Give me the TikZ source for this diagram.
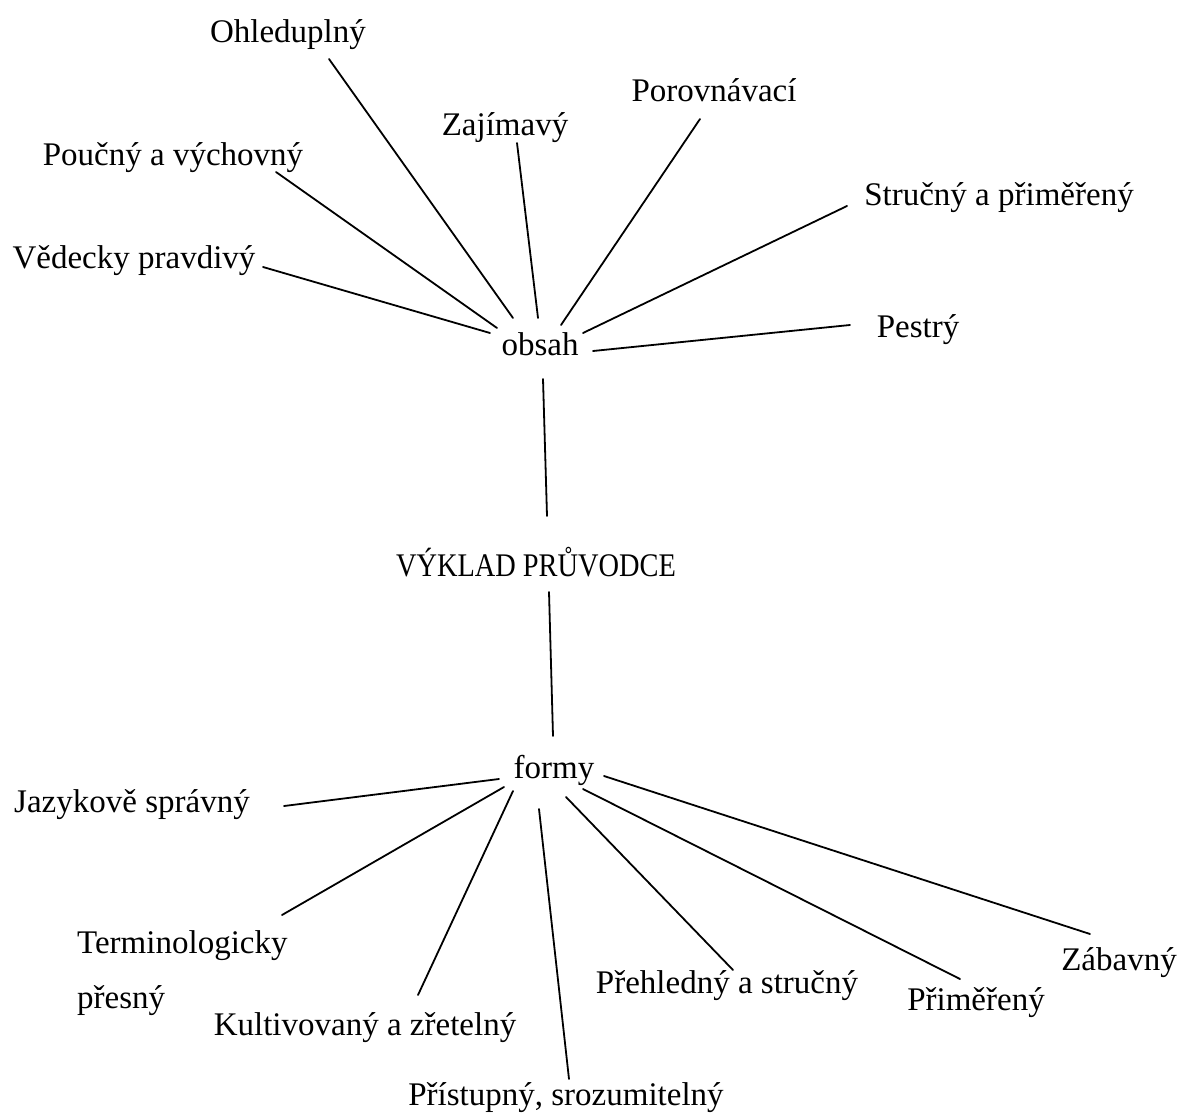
\documentclass[tikz,border=0pt]{standalone}
\usepackage{fontspec}
\setmainfont{Liberation Serif}
\newfontfamily\capfont[FakeStretch=0.86]{Liberation Serif}
\begin{document}
\begin{tikzpicture}[x=1pt,y=-1pt,
  lbl/.style={inner sep=0pt, font=\fontsize{33}{40}\selectfont, anchor=base},
  edge/.style={line width=1.8pt, line cap=round}]
\useasboundingbox[fill=white] (0,0) rectangle (1182,1118);
% nodes
\node[lbl] (ohl) at (288,43) {Ohleduplný};
\node[lbl] (zaj) at (505,136) {Zajímavý};
\node[lbl] (por) at (714,102) {Porovnávací};
\node[lbl] (pou) at (173,165) {Poučný a výchovný};
\node[lbl] (str) at (999,205) {Stručný a přiměřený};
\node[lbl] (ved) at (134,268) {Vědecky pravdivý};
\node[lbl] (pes) at (918,337) {Pestrý};
\node[lbl] (obsah) at (540,355) {obsah};
\node[lbl, font=\fontsize{33}{40}\capfont] (vyk) at (536,576) {VÝKLAD PRŮVODCE};
\node[lbl] (formy) at (554,778) {formy};
\node[lbl] (jaz) at (132,812) {Jazykově správný};
\node[lbl, anchor=base west, align=left, font=\fontsize{33}{55}\selectfont] (ter) at (77,1008) {Terminologicky\\přesný};
\node[lbl] (kul) at (365,1035) {Kultivovaný a zřetelný};
\node[lbl] (pri) at (566,1105) {Přístupný, srozumitelný};
\node[lbl] (pre) at (727,993) {Přehledný a stručný};
\node[lbl] (prim) at (976,1010) {Přiměřený};
\node[lbl] (zab) at (1119,970) {Zábavný};
% connector ends
\coordinate (e-ohl) at (329,59);   \coordinate (o-ohl) at (513,318);
\coordinate (e-pou) at (276,172);  \coordinate (o-pou) at (497,328);
\coordinate (e-ved) at (263,267);  \coordinate (o-ved) at (490,333);
\coordinate (e-zaj) at (517,143);  \coordinate (o-zaj) at (538,318);
\coordinate (e-por) at (700,119);  \coordinate (o-por) at (561,325);
\coordinate (e-str) at (847,206);  \coordinate (o-str) at (583,333);
\coordinate (e-pes) at (850,325);  \coordinate (o-pes) at (593,351);
\coordinate (o-vyk) at (543,379);  \coordinate (v-obs) at (547,516);
\coordinate (v-for) at (549,592);  \coordinate (f-vyk) at (553,736);
\coordinate (f-jaz) at (499,779);  \coordinate (e-jaz) at (284,806);
\coordinate (f-ter) at (504,787);  \coordinate (e-ter) at (282,915);
\coordinate (f-kul) at (513,791);  \coordinate (e-kul) at (418,995);
\coordinate (f-pri) at (539,809);  \coordinate (e-pri) at (569,1079);
\coordinate (f-pre) at (566,797);  \coordinate (e-pre) at (733,970);
\coordinate (f-prim) at (583,789); \coordinate (e-prim) at (960,979);
\coordinate (f-zab) at (604,776);  \coordinate (e-zab) at (1090,934);
% connectors
\draw[edge] (e-ohl) -- (o-ohl);
\draw[edge] (e-pou) -- (o-pou);
\draw[edge] (e-ved) -- (o-ved);
\draw[edge] (e-zaj) -- (o-zaj);
\draw[edge] (e-por) -- (o-por);
\draw[edge] (e-str) -- (o-str);
\draw[edge] (e-pes) -- (o-pes);
\draw[edge] (o-vyk) -- (v-obs);
\draw[edge] (v-for) -- (f-vyk);
\draw[edge] (f-jaz) -- (e-jaz);
\draw[edge] (f-ter) -- (e-ter);
\draw[edge] (f-kul) -- (e-kul);
\draw[edge] (f-pri) -- (e-pri);
\draw[edge] (f-pre) -- (e-pre);
\draw[edge] (f-prim) -- (e-prim);
\draw[edge] (f-zab) -- (e-zab);
\end{tikzpicture}
\end{document}
